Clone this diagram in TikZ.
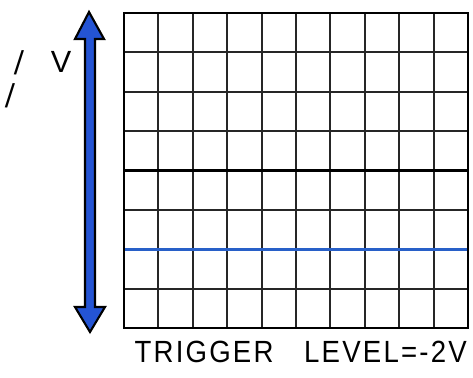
\documentclass[tikz,border=0pt]{standalone}
\usepackage{fontspec}
\setmainfont{Liberation Sans}
\usetikzlibrary{calc,positioning}
\definecolor{scopeblue}{RGB}{36,84,212}
\definecolor{traceblue}{RGB}{40,96,200}

\begin{document}
\begin{tikzpicture}[x=0.75pt, y=-0.75pt,
  gridline/.style={draw=black!85, line width=1.5pt},
  frame/.style={draw=black, line width=2.2pt},
  trace/.style={draw=traceblue, line width=2.4pt},
  bigarrow/.style={fill=scopeblue, draw=black, line width=1.6pt, line join=miter},
  lbl/.style={font=\fontsize{23}{23}\selectfont, inner sep=0pt},
]
\useasboundingbox (0,0) rectangle (473,377);
% screen corners
\coordinate (tl) at (124,13);
\coordinate (br) at (468,328);
% graticule
\foreach \i in {1,...,9}
  \draw[gridline] ($(tl)!\i/10!(tl -| br)$) -- ($(tl |- br)!\i/10!(br)$);
\foreach \j in {1,...,7}
  \draw[gridline] ($(tl)!\j/8!(tl |- br)$) -- ($(tl -| br)!\j/8!(br)$);
\draw[frame] ($(tl)!4/8!(tl |- br)$) -- ($(tl -| br)!4/8!(br)$);
\draw[trace] ($(tl)!6/8!(tl |- br)$) -- ($(tl -| br)!6/8!(br)$);
\draw[frame] (tl) rectangle (br);
% vertical double arrow
\coordinate (top) at (89,12);
\coordinate (bot) at (90,332);
\filldraw[bigarrow] (top) -- ++(15,27) -- ++(-9,0) -- ++(0,268) -- ++(10,0)
  -- (bot) -- ++(-15,-25) -- ++(10,0) -- ++(0,-268) -- ++(-10,0) -- cycle;
% labels
\node[lbl] (volt) at (61,62) {V};
\node[lbl, rotate=-4, yscale=1.1] (mark1) at (19,63) {/};
\node[lbl, rotate=-4, yscale=1.1] (mark2) at (10,96) {/};
\node[lbl, anchor=base east, xscale=0.9] (level) at (467,362)
  {\addfontfeature{LetterSpace=8}TRIGGER\hspace{0.75em} LEVEL=-2V};
\end{tikzpicture}
\end{document}
